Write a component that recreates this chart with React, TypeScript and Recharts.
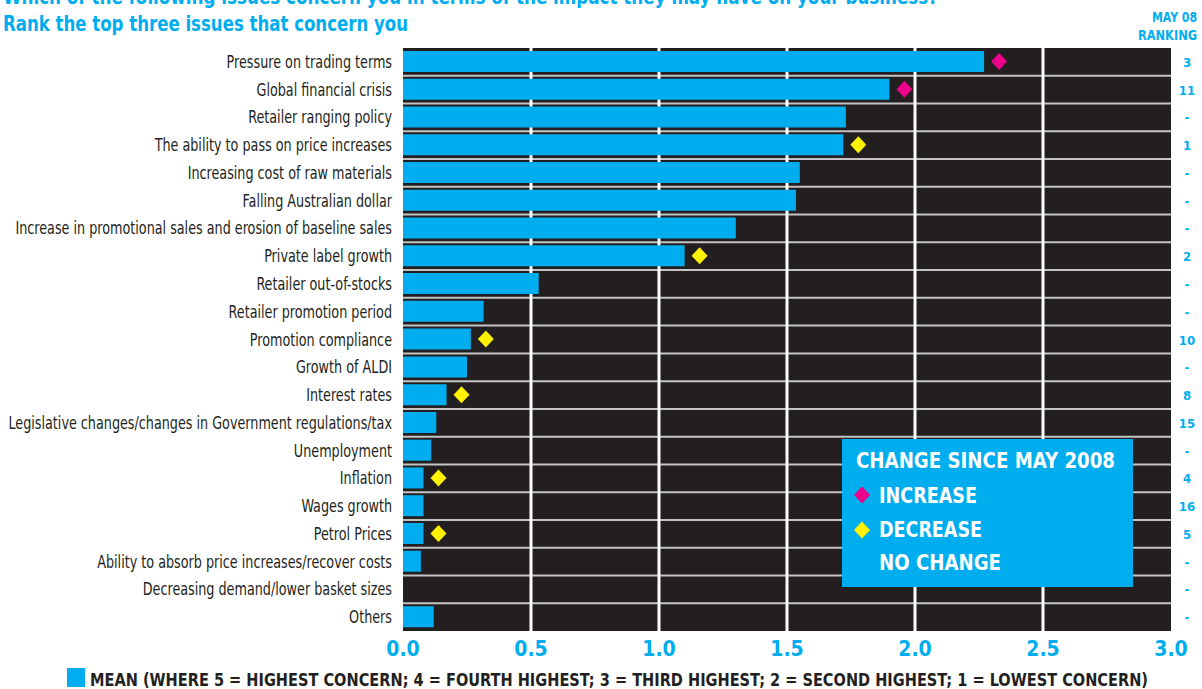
import { BarChart, Bar, XAxis, YAxis, CartesianGrid, LabelList } from "recharts";

// chart colours
const CYAN = "#00aeef";
const DARK = "#231f20";
const PINK = "#ec008c";
const YELLOW = "#fff200";
const FONT = "'DejaVu Sans Condensed', 'DejaVu Sans', sans-serif";

// categories, top to bottom
const issues = [
    "Pressure on trading terms",
    "Global financial crisis",
    "Retailer ranging policy",
    "The ability to pass on price increases",
    "Increasing cost of raw materials",
    "Falling Australian dollar",
    "Increase in promotional sales and erosion of baseline sales",
    "Private label growth",
    "Retailer out-of-stocks",
    "Retailer promotion period",
    "Promotion compliance",
    "Growth of ALDI",
    "Interest rates",
    "Legislative changes/changes in Government regulations/tax",
    "Unemployment",
    "Inflation",
    "Wages growth",
    "Petrol Prices",
    "Ability to absorb price increases/recover costs",
    "Decreasing demand/lower basket sizes",
    "Others",
];

// mean score
const means = [2.27, 1.9, 1.73, 1.72, 1.55, 1.535, 1.3, 1.1, 0.53, 0.315, 0.265, 0.25, 0.17, 0.13, 0.11, 0.08, 0.08, 0.08, 0.07, 0, 0.12];

// change since May 2008: up / down / none
const changes = ["up", "up", "", "down", "", "", "", "down", "", "", "down", "", "down", "", "", "down", "", "down", "", "", ""];

// May 08 ranking
const ranks = ["3", "11", "-", "1", "-", "-", "-", "2", "-", "-", "10", "-", "8", "15", "-", "4", "16", "5", "-", "-", "-"];

const xTicks = [0, 0.5, 1, 1.5, 2, 2.5, 3];

const data = issues.map((issue, i) => ({ issue, mean: means[i], change: changes[i] }));

const Diamond = ({ cx, cy, color }: { cx: number; cy: number; color: string }) => (
    <polygon points={`${cx},${cy - 8.5} ${cx + 8},${cy} ${cx},${cy + 8.5} ${cx - 8},${cy}`} fill={color} />
);

const renderChange = (p: any) => {
    if (!p.value) return null;
    const cx = Number(p.x) + Number(p.width) + 15;
    const cy = Number(p.y) + Number(p.height) / 2;
    return <Diamond cx={cx} cy={cy} color={p.value === "up" ? PINK : YELLOW} />;
};

// condensed look for the category labels
const IssueTick = (p: any) => (
    <g transform={`translate(${p.x - 3},${p.y})`}>
        <text transform="scale(0.835,1)" dy={6} textAnchor="end" fill={DARK} fontSize={17} fontFamily={FONT}>
            {p.payload.value}
        </text>
    </g>
);

const RankTick = (p: any) => {
    const i = issues.indexOf(p.payload.value);
    return (
        <text x={p.x + 8} y={p.y + 5} textAnchor="middle" fill={CYAN} fontSize={13} fontWeight={700} fontFamily={FONT}>
            {ranks[i]}
        </text>
    );
};

const App = () => {
    return (
        <div style={{ position: "absolute", left: 0, top: 0, width: 1202, height: 689, overflow: "hidden", background: "#fff" }}>
            <BarChart
                width={1202}
                height={689}
                data={data}
                layout="vertical"
                margin={{ top: 48, right: 0, bottom: 0, left: 0 }}
            >
                {/* row separators */}
                <CartesianGrid
                    yAxisId="left"
                    vertical={false}
                    fill={DARK}
                    fillOpacity={1}
                    stroke="#c4c4c4"
                    strokeWidth={2}
                    horizontalCoordinatesGenerator={({ offset }: any) =>
                        Array.from({ length: issues.length - 1 }, (_, i) => offset.top + ((i + 1) * offset.height) / issues.length)
                    }
                />
                {/* white value gridlines */}
                <CartesianGrid
                    yAxisId="left"
                    horizontal={false}
                    stroke="#ffffff"
                    strokeWidth={3}
                    verticalCoordinatesGenerator={({ offset }: any) =>
                        xTicks.slice(1, -1).map((v) => offset.left + (v / 3) * offset.width)
                    }
                />
                <XAxis
                    type="number"
                    domain={[0, 3]}
                    ticks={xTicks}
                    tickFormatter={(v: number) => v.toFixed(1)}
                    axisLine={false}
                    tickLine={false}
                    height={58}
                    tickMargin={4}
                    tick={{ fill: CYAN, fontSize: 21, fontWeight: 700, fontFamily: FONT }}
                />
                <YAxis
                    yAxisId="left"
                    type="category"
                    dataKey="issue"
                    width={403}
                    axisLine={false}
                    tickLine={false}
                    interval={0}
                    tick={<IssueTick />}
                />
                <YAxis
                    yAxisId="right"
                    orientation="right"
                    type="category"
                    dataKey="issue"
                    width={31}
                    axisLine={false}
                    tickLine={false}
                    interval={0}
                    tick={<RankTick />}
                />
                <Bar dataKey="mean" yAxisId="left" fill={CYAN} barSize={21} isAnimationActive={false}>
                    <LabelList dataKey="change" content={renderChange} />
                </Bar>
            </BarChart>

            <svg width={1202} height={689} style={{ position: "absolute", left: 0, top: 0, pointerEvents: "none" }} fontFamily={FONT}>
                <text x={3} y={4} fill={CYAN} fontSize={22} fontWeight={700} textLength={935} lengthAdjust="spacingAndGlyphs">
                    Which of the following issues concern you in terms of the impact they may have on your business?
                </text>
                <text x={3} y={31} fill={CYAN} fontSize={22} fontWeight={700} textLength={405} lengthAdjust="spacingAndGlyphs">
                    Rank the top three issues that concern you
                </text>
                <text x={1197} y={22} textAnchor="end" fill={CYAN} fontSize={14} fontWeight={700} textLength={45} lengthAdjust="spacingAndGlyphs">MAY 08</text>
                <text x={1197} y={40} textAnchor="end" fill={CYAN} fontSize={14} fontWeight={700} textLength={59} lengthAdjust="spacingAndGlyphs">RANKING</text>

                {/* change legend box */}
                <rect x={842} y={439} width={291} height={148} fill={CYAN} />
                <text x={856} y={468} fill="#fff" fontSize={21} fontWeight={700} textLength={259} lengthAdjust="spacingAndGlyphs">CHANGE SINCE MAY 2008</text>
                <Diamond cx={862} cy={495} color={PINK} />
                <text x={879} y={503} fill="#fff" fontSize={21} fontWeight={700} textLength={98} lengthAdjust="spacingAndGlyphs">INCREASE</text>
                <Diamond cx={862} cy={530} color={YELLOW} />
                <text x={879} y={537} fill="#fff" fontSize={21} fontWeight={700} textLength={103} lengthAdjust="spacingAndGlyphs">DECREASE</text>
                <text x={879} y={570} fill="#fff" fontSize={21} fontWeight={700} textLength={122} lengthAdjust="spacingAndGlyphs">NO CHANGE</text>

                {/* series legend */}
                <rect x={67} y={668} width={18} height={19} fill={CYAN} />
                <text x={90} y={686} fill={DARK} fontSize={18} fontWeight={700} textLength={1058} lengthAdjust="spacingAndGlyphs">
                    MEAN  (WHERE 5 = HIGHEST CONCERN; 4 = FOURTH HIGHEST; 3 = THIRD HIGHEST; 2 = SECOND HIGHEST; 1 = LOWEST CONCERN)
                </text>
            </svg>
        </div>
    );
};

export default App;
